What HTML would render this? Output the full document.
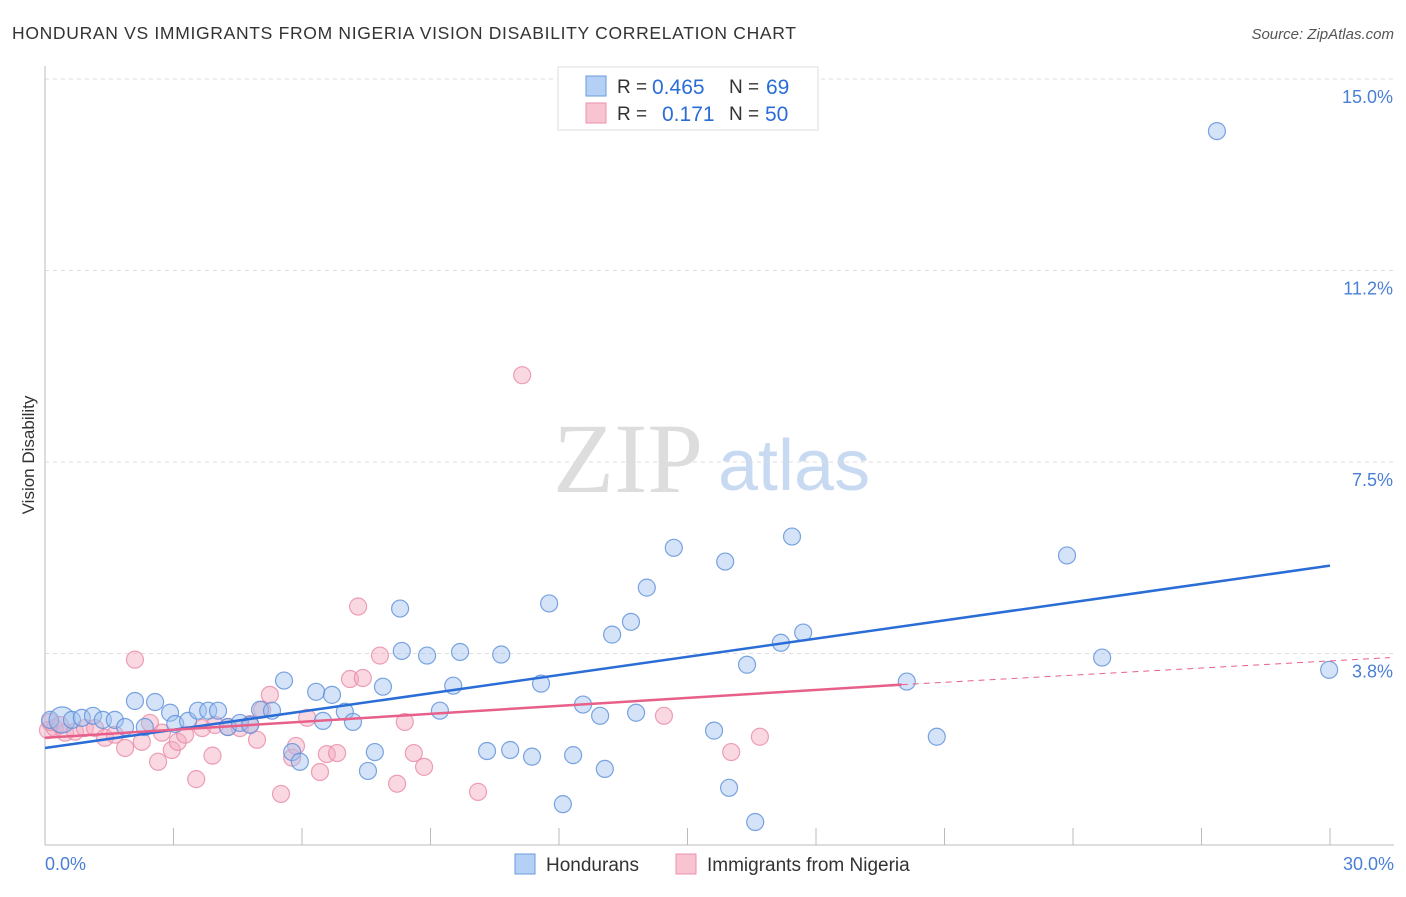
<!DOCTYPE html>
<html><head><meta charset="utf-8"><style>
body{margin:0;background:#fff;font-family:"Liberation Sans",sans-serif;}
svg text{font-family:"Liberation Sans",sans-serif;}
svg text.serif{font-family:"Liberation Serif",serif;}
</style></head><body>
<svg id="chart" width="1406" height="892" viewBox="0 0 1406 892" xmlns="http://www.w3.org/2000/svg">
<text x="12" y="39" font-size="17.5" fill="#333" textLength="784">HONDURAN VS IMMIGRANTS FROM NIGERIA VISION DISABILITY CORRELATION CHART</text>
<text x="1394" y="39" font-size="15" fill="#555" text-anchor="end" font-style="italic">Source: ZipAtlas.com</text>
<g>
<text class="serif" x="553" y="492" font-size="100" fill="#ddd">ZIP</text>
<text x="718" y="490" font-size="72" fill="#c8daf2">atlas</text>
</g>
<g id="grid"></g>
<g id="axes"></g>
<g id="marks"></g>
<text transform="translate(34,455) rotate(-90)" font-size="17" fill="#333" text-anchor="middle">Vision Disability</text>
<g>
<rect x="558" y="67" width="260" height="63" fill="#fff" stroke="#ddd"/>
<rect x="586" y="76" width="20" height="20" fill="#b4d0f4" stroke="#6a9ade"/>
<rect x="586" y="103" width="20" height="20" fill="#f8c4d2" stroke="#ec90ac"/>
<text x="617" y="93" font-size="19" fill="#333">R =</text>
<text x="652" y="94" font-size="21" fill="#2a6dd6">0.465</text>
<text x="729" y="93" font-size="19" fill="#333">N =</text>
<text x="766" y="94" font-size="21" fill="#2a6dd6">69</text>
<text x="617" y="120" font-size="19" fill="#333">R =</text>
<text x="662" y="121" font-size="21" fill="#2a6dd6">0.171</text>
<text x="729" y="120" font-size="19" fill="#333">N =</text>
<text x="765" y="121" font-size="21" fill="#2a6dd6">50</text>
</g>
<g>
<rect x="515" y="854" width="20" height="20" fill="#b4d0f4" stroke="#6a9ade"/>
<text x="546" y="871" font-size="19" fill="#333">Hondurans</text>
<rect x="676" y="854" width="20" height="20" fill="#f8c4d2" stroke="#ec90ac"/>
<text x="707" y="871" font-size="19" fill="#333">Immigrants from Nigeria</text>
</g>
</svg>
<script>
const yTicks=[15.0,11.25,7.5,3.75];
const yTickLabels=["15.0%","11.2%","7.5%","3.8%"];
const xTicks=[0,3,6,9,12,15,18,21,24,27,30];
const xEndLabels=["0.0%","30.0%"];
const hondX=[0.12,0.40,0.63,0.86,1.12,1.35,1.63,1.87,2.10,2.33,2.57,2.92,3.04,3.34,3.57,3.81,4.04,4.27,4.55,4.79,5.02,5.30,5.58,5.77,5.95,6.33,6.49,6.70,7.00,7.19,7.54,7.70,7.89,8.29,8.33,8.92,9.22,9.53,9.69,10.32,10.65,10.86,11.37,11.58,11.77,12.09,12.33,12.56,12.96,13.07,13.24,13.68,13.80,14.05,14.68,15.62,15.88,15.97,16.39,16.58,17.18,17.44,17.70,20.12,20.82,23.86,24.68,27.36,29.98];
const hondY=[2.45,2.45,2.45,2.49,2.53,2.45,2.45,2.31,2.82,2.31,2.80,2.59,2.37,2.43,2.63,2.63,2.63,2.31,2.39,2.35,2.65,2.63,3.22,1.82,1.63,3.00,2.43,2.94,2.61,2.41,1.45,1.82,3.10,4.63,3.80,3.71,2.63,3.12,3.78,1.84,3.73,1.86,1.73,3.16,4.73,0.80,1.76,2.75,2.53,1.49,4.12,4.37,2.59,5.04,5.82,2.24,5.55,1.12,3.53,0.45,3.96,6.04,4.16,3.20,2.12,5.67,3.67,13.98,3.43];
const nigX=[0.07,0.23,0.47,0.70,0.93,1.17,1.40,1.63,1.87,2.10,2.26,2.45,2.64,2.73,2.96,3.10,3.27,3.53,3.67,3.91,3.97,4.27,4.55,4.79,4.95,5.07,5.25,5.51,5.77,5.86,6.12,6.42,6.58,6.82,7.12,7.31,7.42,7.82,8.22,8.40,8.61,8.85,10.11,11.14,14.45,16.02,16.69,0.12,0.35];
const nigY=[2.25,2.29,2.20,2.22,2.29,2.29,2.10,2.16,1.90,3.63,2.02,2.39,1.63,2.20,1.86,2.02,2.16,1.29,2.29,1.75,2.35,2.31,2.29,2.37,2.06,2.65,2.94,1.00,1.71,1.94,2.49,1.43,1.78,1.80,3.25,4.67,3.27,3.71,1.20,2.41,1.80,1.53,1.04,9.20,2.53,1.82,2.12,2.41,2.35];
const hondTrendX=[0,30];
const hondTrendY=[1.90,5.47];
const nigTrendX=[0,20.0,31.4];
const nigTrendY=[2.10,3.14,3.67];

const NS="http://www.w3.org/2000/svg";
const xs=v=>45+v/30*1285;
const ys=v=>845-v/15*766;
function mk(tag,parent){const e=document.createElementNS(NS,tag);document.getElementById(parent).appendChild(e);return e;}

yTicks.forEach((t,i)=>{
  const l=mk('line','grid');
  
  
  l.setAttribute('x1',45);l.setAttribute('x2',1394);l.setAttribute('y1',ys(t));l.setAttribute('y2',ys(t));
  l.setAttribute('stroke','#ddd');l.setAttribute('stroke-dasharray','4,4');
  const tx=mk('text','grid');
  
  
  tx.setAttribute('x',1393);tx.setAttribute('y',ys(t)+24);tx.setAttribute('text-anchor','end');
  tx.setAttribute('font-size','18');tx.setAttribute('fill','#4a7fd6');tx.textContent=yTickLabels[i];
});
{
  const a=mk('line','axes');
  
  
  a.setAttribute('x1',45);a.setAttribute('x2',45);a.setAttribute('y1',66);a.setAttribute('y2',845);a.setAttribute('stroke','#bbb');
  const b=mk('line','axes');
  
  
  b.setAttribute('x1',45);b.setAttribute('x2',1394);b.setAttribute('y1',845);b.setAttribute('y2',845);b.setAttribute('stroke','#bbb');
}
xTicks.forEach(t=>{
  const l=mk('line','axes');
  
  
  l.setAttribute('x1',xs(t));l.setAttribute('x2',xs(t));l.setAttribute('y1',828);l.setAttribute('y2',845);l.setAttribute('stroke','#bbb');
});
[[0,'start',45],[30,'end',1394]].forEach((d,i)=>{
  const tx=mk('text','axes');
  
  
  tx.setAttribute('x',i===0?xs(d[0]):d[2]);tx.setAttribute('y',870);tx.setAttribute('text-anchor',d[1]);
  tx.setAttribute('font-size','18');tx.setAttribute('fill','#4a7fd6');tx.textContent=xEndLabels[i];
});

function drawPts(X,Y,fill,stroke,name){
  X.forEach((x,i)=>{
    const c=mk('circle','marks');
    
    
    c.setAttribute('cx',xs(x));c.setAttribute('cy',ys(Y[i]));
    c.setAttribute('r',(i===1&&name==='honduran-point')?13:8.5);
    c.setAttribute('fill',fill);c.setAttribute('fill-opacity','0.45');
    c.setAttribute('stroke',stroke);c.setAttribute('stroke-opacity','0.8');c.setAttribute('stroke-width','1.2');
  });
}
drawPts(nigX,nigY,'#f4a8be','#e88aa6','nigeria-point');
drawPts(hondX,hondY,'#a0c2ee','#5b8fd9','honduran-point');

{
  const l=mk('line','marks');
  
  
  l.setAttribute('x1',xs(hondTrendX[0]));l.setAttribute('y1',ys(hondTrendY[0]));
  l.setAttribute('x2',xs(hondTrendX[1]));l.setAttribute('y2',ys(hondTrendY[1]));
  l.setAttribute('stroke','#2a6dd6');l.setAttribute('stroke-width','2.5');
  const p=mk('line','marks');
  
  
  p.setAttribute('x1',xs(nigTrendX[0]));p.setAttribute('y1',ys(nigTrendY[0]));
  p.setAttribute('x2',xs(nigTrendX[1]));p.setAttribute('y2',ys(nigTrendY[1]));
  p.setAttribute('stroke','#e8608a');p.setAttribute('stroke-width','2.5');
  const d=mk('line','marks');
  
  
  d.setAttribute('x1',xs(nigTrendX[1]));d.setAttribute('y1',ys(nigTrendY[1]));
  d.setAttribute('x2',xs(nigTrendX[2]));d.setAttribute('y2',ys(nigTrendY[2]));
  d.setAttribute('stroke','#e8608a');d.setAttribute('stroke-width','1');d.setAttribute('stroke-dasharray','6,5');
}
</script>
</body></html>
